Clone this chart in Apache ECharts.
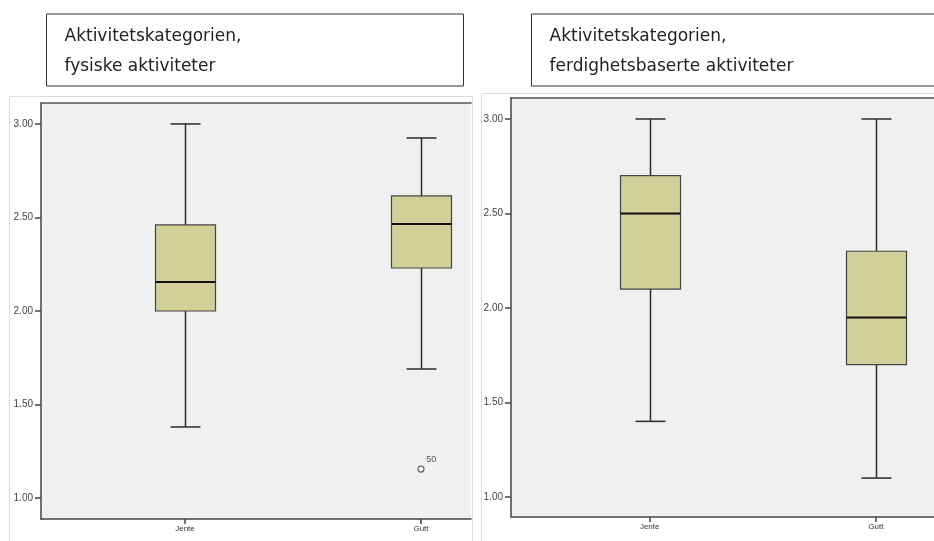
<!DOCTYPE html>
<html><head><meta charset="utf-8">
<script src="https://cdn.jsdelivr.net/npm/echarts@6/dist/echarts.min.js"></script>
<style>html,body{margin:0;padding:0;background:#fff}#c{width:934px;height:541px}</style>
</head><body><div id="c"></div>
<script>
const categories = ['Jente', 'Gutt'];
// [min, Q1, median, Q3, max]
const fysiskeBox = [[1.38, 2.00, 2.155, 2.46, 3.00], [1.69, 2.23, 2.465, 2.615, 2.925]];
const ferdighetBox = [[1.40, 2.10, 2.50, 2.70, 3.00], [1.10, 1.70, 1.95, 2.30, 3.00]];
const fysiskeOutliers = [['Gutt', 1.155, '50']];
const yTicks = [1.0, 1.5, 2.0, 2.5, 3.0];
const titleLeft = ['Aktivitetskategorien,', 'fysiske aktiviteter'];
const titleRight = ['Aktivitetskategorien,', 'ferdighetsbaserte aktiviteter'];

const chart = echarts.init(document.getElementById('c'));
const BOXW = 60, CAPW = 30;
const catIdx = categories.map((c, i) => i);
function renderBox(params, api) {
  const x = api.value(0);
  const vals = [api.value(1), api.value(2), api.value(3), api.value(4), api.value(5)];
  const p = vals.map(v => api.coord([x, v]));
  const cx = Math.round(p[0][0]) + 0.5;
  const lineStyle = {stroke: '#2b2b2b', lineWidth: 1.5};
  return {type: 'group', children: [
    {type: 'line', shape: {x1: cx, y1: p[4][1], x2: cx, y2: p[3][1]}, style: lineStyle},
    {type: 'line', shape: {x1: cx, y1: p[1][1], x2: cx, y2: p[0][1]}, style: lineStyle},
    {type: 'line', shape: {x1: cx - CAPW/2, y1: p[4][1], x2: cx + CAPW/2, y2: p[4][1]}, style: lineStyle},
    {type: 'line', shape: {x1: cx - CAPW/2, y1: p[0][1], x2: cx + CAPW/2, y2: p[0][1]}, style: lineStyle},
    {type: 'rect', shape: {x: cx - BOXW/2, y: p[3][1], width: BOXW, height: p[1][1] - p[3][1]},
      style: {fill: '#d3cf98', stroke: '#444', lineWidth: 1.2}},
    {type: 'line', shape: {x1: cx - BOXW/2, y1: p[2][1], x2: cx + BOXW/2, y2: p[2][1]}, style: {stroke: '#111', lineWidth: 2}}
  ]};
}
function boxData(arr) { return arr.map((d, i) => [i].concat(d)); }

function yAxis(idx, min, max) {
  return {
    type: 'value', gridIndex: idx, min: min, max: max,
    splitLine: {show: false},
    axisLine: {show: true, onZero: false, lineStyle: {color: '#444', width: 1.5}},
    axisTick: {show: true, length: 6, customValues: yTicks, lineStyle: {color: '#444', width: 1.5}},
    axisLabel: {customValues: yTicks, formatter: v => v.toFixed(2), fontSize: 10, color: '#444',
      fontFamily: 'Liberation Sans', margin: 8}
  };
}
function xAxis(idx, min, max) {
  return {
    type: 'value', gridIndex: idx, min: min, max: max,
    splitLine: {show: false},
    axisLine: {show: true, onZero: false, lineStyle: {color: '#444', width: 1.5}},
    axisTick: {show: true, customValues: catIdx, length: 5, lineStyle: {color: '#444', width: 1.5}},
    axisLabel: {customValues: catIdx, formatter: v => categories[Math.round(v)], fontSize: 8, color: '#333',
      fontFamily: 'Liberation Sans', margin: 6}
  };
}
function topAxis(idx, min, max) {
  return {type: 'value', gridIndex: idx, position: 'top', min: min, max: max,
    splitLine: {show: false},
    axisLine: {show: true, onZero: false, lineStyle: {color: '#555', width: 1.5}},
    axisTick: {show: false}, axisLabel: {show: false}};
}
function titleBox(x, w, lines) {
  return [
    {type: 'rect', z: 10, shape: {x: x, y: 14, width: w, height: 72},
      style: {fill: '#fff', stroke: '#333', lineWidth: 1}},
    {type: 'text', z: 11, left: x + 18, top: 22,
      style: {text: lines.join('\n'), font: '17px "DejaVu Sans"', fill: '#222', lineHeight: 30}}
  ];
}

chart.setOption({
  animation: false,
  backgroundColor: '#fff',
  graphic: [
    {type: 'rect', z: -100, shape: {x: 9.5, y: 96.5, width: 463, height: 460}, style: {fill: '#fff', stroke: '#ddd', lineWidth: 1}},
    {type: 'rect', z: -100, shape: {x: 481.5, y: 93.5, width: 460, height: 460}, style: {fill: '#fff', stroke: '#ddd', lineWidth: 1}},
    ...titleBox(46.5, 417, titleLeft),
    ...titleBox(531.5, 410, titleRight)
  ],
  grid: [
    {left: 41, top: 103, width: 430, height: 416, show: true, backgroundColor: '#f0f0f0', borderWidth: 0},
    {left: 511, top: 98, width: 430, height: 419, show: true, backgroundColor: '#f0f0f0', borderWidth: 0}
  ],
  xAxis: [xAxis(0, -0.610, 1.212), xAxis(1, -0.613, 1.257), topAxis(0, -0.610, 1.212), topAxis(1, -0.613, 1.257)],
  yAxis: [yAxis(0, 0.888, 3.112), yAxis(1, 0.894, 3.111)],
  series: [
    {type: 'custom', xAxisIndex: 0, yAxisIndex: 0, renderItem: renderBox, data: boxData(fysiskeBox)},
    {type: 'custom', xAxisIndex: 1, yAxisIndex: 1, renderItem: renderBox, data: boxData(ferdighetBox)},
    {type: 'scatter', xAxisIndex: 0, yAxisIndex: 0, symbol: 'circle', symbolSize: 6,
      itemStyle: {color: '#f0f0f0', borderColor: '#444', borderWidth: 1.2},
      label: {show: true, formatter: p => p.data[2], position: [9, -10], fontSize: 9, color: '#333', fontFamily: 'Liberation Sans'},
      data: fysiskeOutliers.map(d => [categories.indexOf(d[0]), d[1], d[2]])}
  ]
});
</script></body></html>
